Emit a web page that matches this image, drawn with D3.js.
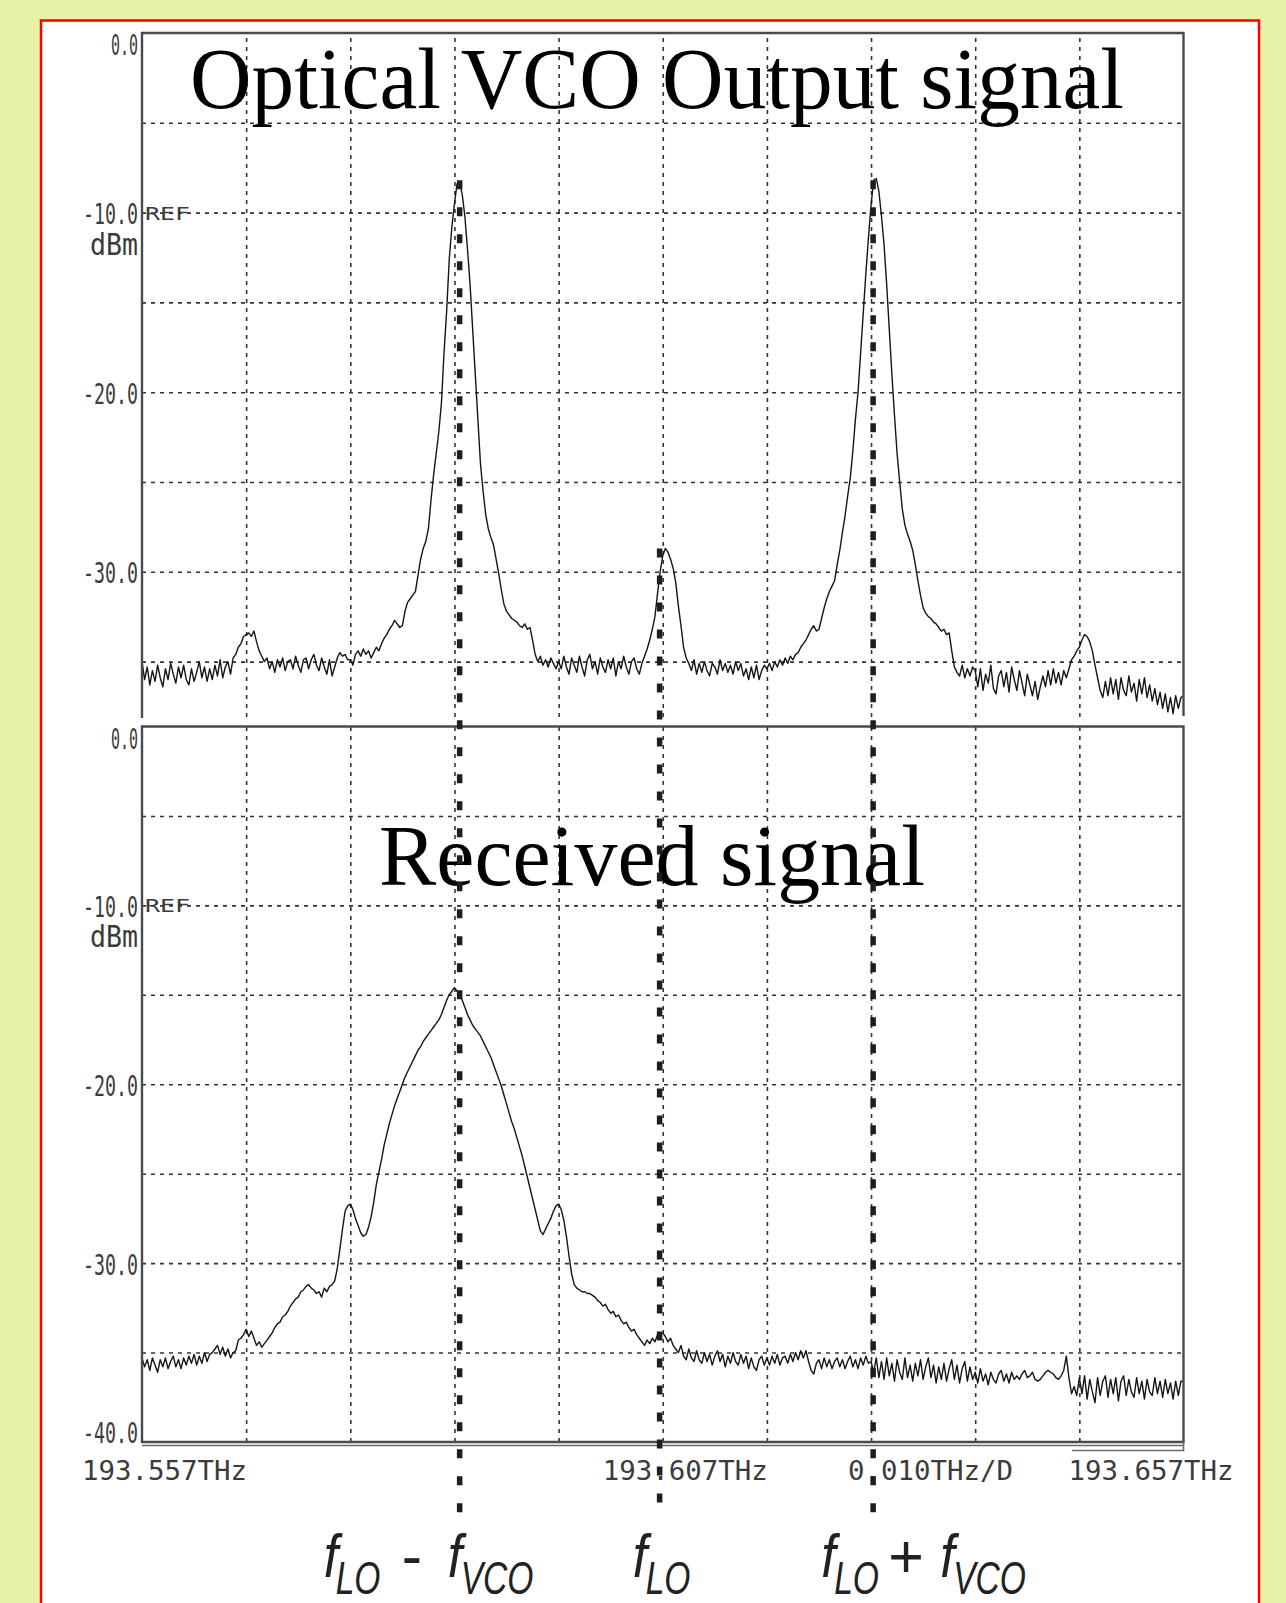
<!DOCTYPE html>
<html>
<head>
<meta charset="utf-8">
<script src="https://cdn.jsdelivr.net/npm/d3@7"></script>
<style>
body { margin: 0; background: #e9f3a7; }
svg { display: block; }
.grid .domain { display: none; }
.grid line { stroke: #333; stroke-width: 1.6; stroke-dasharray: 4,5; }
.osa { font-family: "DejaVu Sans Mono", monospace; fill: #3b3b3b; }
</style>
</head>
<body>
<svg class="espacio"></svg>
<script>
// frecuencia inicial y ancho de cada division (THz)
var fInicio = 193.557;
var fDiv = 0.010;

// traza superior (dBm), una fila por division
var salidaVCO = [
  [-35.0,-36.0,-35.3,-36.3,-35.5,-36.1,-35.2,-35.9,-36.4,-35.4,-36.0,-35.1,-35.7,-36.2,-35.3,-35.9,-35.2,-36.0,-36.3,-35.4,-36.1,-35.6,-35.0,-35.9,-35.3,-36.1,-35.4,-36.0,-35.2,-35.8,-34.9,-35.9,-35.3,-35.0,-35.7,-34.8,-34.6,-34.2,-34.0,-33.6],
  [-33.5,-33.4,-33.6,-33.3,-33.9,-34.4,-34.7,-35.0,-34.8,-35.4,-35.0,-35.6,-34.9,-35.3,-34.8,-35.5,-35.0,-34.9,-35.4,-34.7,-35.2,-35.6,-34.9,-34.8,-35.4,-34.9,-34.6,-35.2,-35.5,-34.8,-35.3,-35.7,-34.9,-35.8,-35.3,-34.8,-34.5,-34.7,-34.6,-34.9],
  [-34.9,-35.2,-34.6,-34.4,-34.7,-34.3,-34.6,-34.4,-34.8,-34.5,-34.2,-34.4,-34.0,-33.7,-33.5,-33.2,-33.0,-32.7,-32.9,-33.1,-33.0,-32.2,-31.7,-31.5,-31.3,-31.1,-30.2,-29.3,-28.7,-28.3,-27.6,-26.0,-24.6,-23.4,-22.2,-20.6,-17.8,-15.5,-12.6,-10.8],
  [-9.5,-8.4,-8.3,-9.0,-10.2,-12.0,-14.0,-16.5,-19.0,-21.5,-24.0,-25.5,-26.8,-27.6,-28.1,-28.5,-29.3,-30.1,-31.0,-31.8,-32.2,-32.4,-32.6,-32.7,-32.8,-33.0,-33.1,-32.9,-33.2,-33.1,-33.8,-34.6,-35.0,-34.7,-35.2,-34.9,-35.3,-34.8,-35.1,-35.4],
  [-35.0,-35.4,-34.7,-35.3,-35.7,-34.8,-35.2,-35.6,-34.7,-35.3,-35.8,-34.9,-34.6,-35.4,-35.0,-35.7,-34.8,-35.3,-35.6,-34.9,-35.4,-34.8,-35.8,-35.0,-35.4,-34.7,-35.3,-35.7,-35.0,-34.8,-35.4,-35.7,-35.1,-34.7,-34.3,-33.8,-33.2,-32.5,-31.2,-30.0],
  [-29.1,-28.7,-28.9,-29.3,-29.8,-30.6,-31.9,-33.0,-34.2,-34.8,-35.1,-35.5,-34.9,-35.7,-35.1,-35.6,-35.0,-35.5,-35.8,-35.1,-35.3,-35.7,-34.9,-35.5,-35.1,-35.6,-35.2,-35.7,-35.0,-35.5,-35.1,-35.8,-35.4,-36.0,-35.3,-35.9,-35.2,-36.0,-35.5,-35.2],
  [-35.4,-35.1,-35.5,-35.0,-35.3,-34.9,-35.2,-34.8,-35.1,-34.7,-34.9,-34.6,-34.5,-34.2,-34.0,-33.8,-33.5,-33.2,-33.0,-33.3,-33.2,-32.6,-32.0,-31.5,-31.1,-30.8,-30.5,-29.6,-28.8,-27.8,-26.9,-25.8,-24.8,-23.3,-21.5,-20.0,-17.8,-15.6,-13.4,-11.4],
  [-9.6,-8.2,-8.1,-8.8,-10.2,-11.8,-14.0,-16.5,-19.0,-21.3,-23.4,-25.0,-26.5,-27.4,-27.9,-28.3,-28.8,-29.6,-30.5,-31.3,-32.0,-32.3,-32.5,-32.6,-32.8,-32.9,-33.1,-33.3,-33.2,-33.5,-33.4,-34.4,-35.3,-35.6,-35.8,-35.2,-35.9,-35.4,-35.8,-35.3],
  [-35.5,-36.4,-35.4,-36.6,-35.7,-36.2,-35.2,-36.5,-36.8,-35.8,-35.5,-36.4,-35.6,-36.7,-35.3,-36.0,-36.6,-35.5,-36.2,-36.9,-35.7,-36.3,-36.9,-36.1,-37.1,-36.4,-35.8,-36.4,-35.5,-36.3,-35.4,-36.2,-35.6,-36.3,-35.5,-35.9,-35.4,-34.9,-34.7,-34.4],
  [-34.2,-33.8,-33.5,-33.6,-33.9,-34.4,-35.2,-35.9,-36.6,-37.0,-36.1,-36.9,-35.9,-36.8,-36.0,-37.1,-35.9,-36.6,-36.9,-35.8,-36.7,-36.2,-37.2,-36.0,-36.8,-35.9,-37.0,-36.3,-37.2,-36.5,-37.4,-36.7,-37.6,-36.8,-37.8,-37.0,-37.9,-36.9,-37.6,-37.0]
];
var salidaVCOFin = -36.9;

// traza inferior (dBm)
var recibida = [
  [-35.3,-35.8,-35.4,-36.0,-35.3,-35.7,-36.1,-35.4,-35.8,-35.3,-35.9,-35.5,-35.2,-35.8,-35.4,-35.9,-35.3,-35.7,-35.2,-35.6,-35.1,-35.7,-35.2,-35.6,-35.0,-35.5,-35.1,-35.0,-34.8,-34.6,-35.1,-34.7,-35.2,-34.8,-35.3,-35.0,-34.9,-34.3,-34.2,-34.0],
  [-33.7,-34.1,-33.8,-34.2,-34.6,-34.4,-34.7,-34.5,-34.3,-34.1,-33.9,-33.6,-33.4,-33.3,-33.0,-32.9,-32.7,-32.4,-32.2,-32.0,-31.9,-31.6,-31.5,-31.3,-31.2,-31.4,-31.5,-31.7,-31.6,-31.9,-31.4,-31.6,-31.3,-31.2,-31.0,-30.3,-29.2,-28.1,-27.1,-26.8],
  [-26.7,-27.0,-27.5,-27.9,-28.3,-28.5,-28.4,-28.0,-27.4,-26.6,-25.6,-24.9,-24.2,-23.4,-22.8,-22.2,-21.7,-21.2,-20.8,-20.4,-20.0,-19.6,-19.3,-19.0,-18.7,-18.4,-18.1,-17.9,-17.6,-17.4,-17.2,-17.0,-16.8,-16.6,-16.4,-16.1,-15.7,-15.3,-15.0,-14.8],
  [-14.6,-14.8,-15.0,-15.3,-15.7,-16.1,-16.4,-16.7,-16.9,-17.1,-17.3,-17.6,-17.9,-18.2,-18.5,-18.9,-19.3,-19.7,-20.1,-20.6,-21.1,-21.6,-22.1,-22.5,-23.0,-23.5,-24.0,-24.6,-25.2,-25.8,-26.4,-27.0,-27.6,-28.2,-28.4,-28.1,-27.8,-27.5,-27.1,-26.8],
  [-26.7,-27.0,-27.6,-28.5,-29.6,-30.6,-31.2,-31.4,-31.5,-31.6,-31.6,-31.7,-31.7,-31.8,-31.9,-32.1,-32.2,-32.4,-32.3,-32.6,-32.8,-32.7,-33.0,-32.9,-33.2,-33.4,-33.3,-33.6,-33.8,-33.7,-34.0,-34.2,-34.4,-34.6,-34.3,-34.5,-34.2,-34.4,-34.0,-33.9],
  [-33.9,-34.1,-34.4,-34.2,-34.6,-34.8,-35.0,-34.6,-35.2,-35.4,-34.8,-35.3,-35.5,-34.9,-35.4,-35.6,-35.0,-35.5,-35.1,-35.7,-35.2,-34.9,-35.5,-35.1,-35.8,-35.2,-35.6,-35.0,-35.5,-35.7,-35.1,-35.6,-35.2,-35.9,-35.3,-35.8,-36.0,-35.4,-35.2,-35.7],
  [-35.3,-35.7,-35.2,-35.6,-35.1,-35.7,-35.3,-35.2,-35.6,-35.1,-35.5,-35.0,-35.4,-34.9,-35.3,-34.9,-35.5,-36.0,-36.2,-35.6,-35.4,-35.9,-35.3,-35.8,-35.4,-35.9,-35.5,-35.3,-35.8,-35.4,-35.9,-35.5,-35.2,-35.8,-35.4,-35.9,-35.3,-35.7,-35.2,-35.6],
  [-35.5,-36.1,-35.3,-36.4,-35.5,-36.5,-35.3,-36.3,-35.6,-36.6,-35.4,-36.1,-36.5,-35.3,-36.4,-35.7,-36.6,-35.6,-36.3,-35.4,-36.5,-35.8,-35.3,-36.4,-35.7,-36.7,-35.8,-36.5,-35.6,-36.6,-35.9,-35.4,-36.5,-35.7,-36.7,-35.9,-35.5,-36.6,-35.8,-36.5],
  [-36.1,-36.7,-35.9,-36.6,-36.2,-36.8,-36.1,-36.5,-36.7,-36.2,-36.0,-36.6,-36.2,-36.7,-36.1,-36.5,-36.3,-36.5,-36.2,-36.0,-36.4,-36.3,-36.1,-36.5,-36.6,-36.5,-36.3,-36.1,-36.0,-36.1,-36.2,-36.4,-36.5,-36.3,-36.0,-35.2,-36.4,-37.3,-36.9,-37.4],
  [-36.4,-37.3,-36.3,-37.6,-36.5,-37.2,-37.8,-36.4,-37.4,-36.6,-36.3,-37.5,-36.5,-37.3,-36.4,-37.7,-36.6,-36.3,-37.4,-36.5,-37.2,-37.5,-36.4,-37.3,-36.6,-37.6,-36.5,-37.2,-37.4,-36.4,-37.3,-36.6,-37.5,-36.5,-37.3,-36.7,-37.6,-36.6,-37.4,-36.6]
];
var recibidaFin = -36.6;

// ejes
var yTicks = [0, -10, -20, -30, -40];
var yTickLabels = ["0.0", "-10.0", "-20.0", "-30.0", "-40.0"];
var gridDb = [-5, -10, -15, -20, -25, -30, -35];
var xTickDiv = [0, 5, 7, 10];
var xTickLabels = ["193.557THz", "193.607THz", "0.010THz/D", "193.657THz"];
var titulos = ["Optical VCO Output signal", "Received signal"];

// lineas de marca: f_LO - f_VCO, f_LO, f_LO + f_VCO
var marcasF = [193.5875, 193.6067, 193.6272];
var marcasTopDb = [-8.2, -28.7, -8.2];

var W = 1286, H = 1603;
var svg = d3.select(".espacio").attr("width", W).attr("height", H);

// fondo y marco rojo
svg.append("rect").attr("width", W).attr("height", H).attr("fill", "#e9f3a7");
svg.append("rect")
  .attr("x", 41).attr("y", 20.5)
  .attr("width", 1218).attr("height", 1700)
  .attr("fill", "#fff")
  .attr("stroke", "#f00")
  .attr("stroke-width", 2.5);

var x = d3.scaleLinear().domain([fInicio, fInicio + 10 * fDiv]).range([142, 1183.5]);
var xIzq = x.range()[0], xDer = x.range()[1];

var paneles = [
  { datos: salidaVCO, fin: salidaVCOFin, top: 33, bottom: 717,
    y: d3.scaleLinear().domain([0, -40]).range([33, 751.4]),
    tx: 190, ty: 108, tl: 934 },
  { datos: recibida, fin: recibidaFin, top: 726.5, bottom: 1442,
    y: d3.scaleLinear().domain([0, -40]).range([726.5, 1442]),
    tx: 379, ty: 885, tl: 546 }
];

function puntos(filas, fin) {
  var pts = [];
  filas.forEach(function(fila, d) {
    fila.forEach(function(v, i) {
      pts.push({ f: fInicio + (d + i / fila.length) * fDiv, db: v });
    });
  });
  pts.push({ f: fInicio + filas.length * fDiv, db: fin });
  return pts;
}

paneles.forEach(function(p, k) {
  svg.append("clipPath").attr("id", "clip" + k)
    .append("rect")
    .attr("x", xIzq - 2).attr("y", p.top - 2)
    .attr("width", xDer - xIzq + 4).attr("height", p.bottom - p.top + 3);

  var g = svg.append("g").attr("clip-path", "url(#clip" + k + ")");

  // rejilla
  g.append("g").attr("class", "grid")
    .attr("transform", "translate(0," + p.bottom + ")")
    .call(d3.axisBottom(x)
      .tickValues(d3.range(1, 10).map(function(d) { return fInicio + d * fDiv; }))
      .tickSize(-(p.bottom - p.top))
      .tickFormat(""));
  g.append("g").attr("class", "grid")
    .attr("transform", "translate(" + xIzq + ",0)")
    .call(d3.axisLeft(p.y)
      .tickValues(gridDb)
      .tickSize(-(xDer - xIzq))
      .tickFormat(""));

  // traza
  var linea = d3.line()
    .x(function(d) { return x(d.f); })
    .y(function(d) { return p.y(d.db); });
  g.append("path")
    .datum(puntos(p.datos, p.fin))
    .attr("d", linea)
    .attr("fill", "none")
    .attr("stroke", "#151515")
    .attr("stroke-width", 1.4)
    .attr("stroke-linejoin", "round");

  // marco
  var marco = k === 0
    ? "M" + xIzq + "," + (p.bottom + 1) + "V" + p.top + "H" + xDer + "V" + (p.bottom - 1)
    : "M" + xIzq + "," + p.top + "H" + xDer + "V" + p.bottom + "H" + xIzq + "Z";
  svg.append("path").attr("d", marco)
    .attr("fill", "none").attr("stroke", "#4a4a4a").attr("stroke-width", 2.4);

  // etiquetas eje y
  yTicks.forEach(function(v, i) {
    var yy = p.y(v);
    if (yy > p.bottom + 2) return;
    var base = Math.min(Math.max(yy + 11.5, p.top + 22), p.bottom + 1);
    svg.append("text").attr("class", "osa")
      .attr("x", 138).attr("y", base)
      .attr("text-anchor", "end")
      .attr("font-size", 29)
      .attr("textLength", yTickLabels[i].length > 3 ? 55 : 27)
      .attr("lengthAdjust", "spacingAndGlyphs")
      .text(yTickLabels[i]);
  });
  var yRef = p.y(-10);
  svg.append("text").attr("class", "osa")
    .attr("x", 145).attr("y", yRef + 7)
    .attr("font-size", 18)
    .attr("textLength", 45).attr("lengthAdjust", "spacingAndGlyphs")
    .text("REF");
  svg.append("text").attr("class", "osa")
    .attr("x", 138).attr("y", yRef + 42)
    .attr("text-anchor", "end")
    .attr("font-size", 30)
    .attr("textLength", 48).attr("lengthAdjust", "spacingAndGlyphs")
    .text("dBm");

  // titulo
  svg.append("text")
    .attr("x", p.tx).attr("y", p.ty)
    .attr("font-family", "Liberation Serif, Times New Roman, serif")
    .attr("font-size", 86)
    .attr("fill", "#000")
    .attr("textLength", p.tl).attr("lengthAdjust", "spacingAndGlyphs")
    .text(titulos[k]);
});

// linea doble inferior y marca de escala
svg.append("path")
  .attr("d", "M" + xIzq + ",1445.5H" + xDer + "M" + xDer + ",1442V1450.5H1072")
  .attr("fill", "none").attr("stroke", "#6a6a6a").attr("stroke-width", 1.6);

// etiquetas eje x
var xDesp = [-60, -60, -23, -115];
xTickDiv.forEach(function(d, i) {
  svg.append("text").attr("class", "osa")
    .attr("x", x(fInicio + d * fDiv) + xDesp[i]).attr("y", 1480)
    .attr("font-size", 27.4)
    .attr("textLength", 165).attr("lengthAdjust", "spacingAndGlyphs")
    .text(xTickLabels[i]);
});

// lineas de marca gruesas
var marcasFondo = [1515, 1507, 1515];
marcasF.forEach(function(f, i) {
  svg.append("line")
    .attr("x1", x(f)).attr("x2", x(f))
    .attr("y1", paneles[0].y(marcasTopDb[i])).attr("y2", marcasFondo[i])
    .attr("stroke", "#1e1e1e")
    .attr("stroke-width", 5.5)
    .attr("stroke-dasharray", "9,18");
});

// rotulos de frecuencia
var rotulos = [
  { dx: -136, piezas: [["f", 0], ["LO", 12, "sub"], ["-", 78, "op"], ["f", 124], ["VCO", 137, "sub"]] },
  { dx: -27, piezas: [["f", 0], ["LO", 13, "sub"]] },
  { dx: -52, piezas: [["f", 0], ["LO", 13, "sub"], ["+", 67, "op"], ["f", 119], ["VCO", 132, "sub"]] }
];
rotulos.forEach(function(r, i) {
  var x0 = x(marcasF[i]) + r.dx;
  r.piezas.forEach(function(pz) {
    var sub = pz[2] === "sub", op = pz[2] === "op";
    var sx = sub ? 0.73 : (op ? 1 : 0.85);
    svg.append("text")
      .attr("transform", "translate(" + (x0 + pz[1]) + "," + (sub ? 1594 : 1577) + ") scale(" + sx + ",1)")
      .attr("font-family", "Liberation Sans, Arial, sans-serif")
      .attr("font-style", op ? "normal" : "italic")
      .attr("font-size", sub ? 46 : 61)
      .attr("fill", "#222")
      .text(pz[0]);
  });
});
</script>
</body>
</html>
